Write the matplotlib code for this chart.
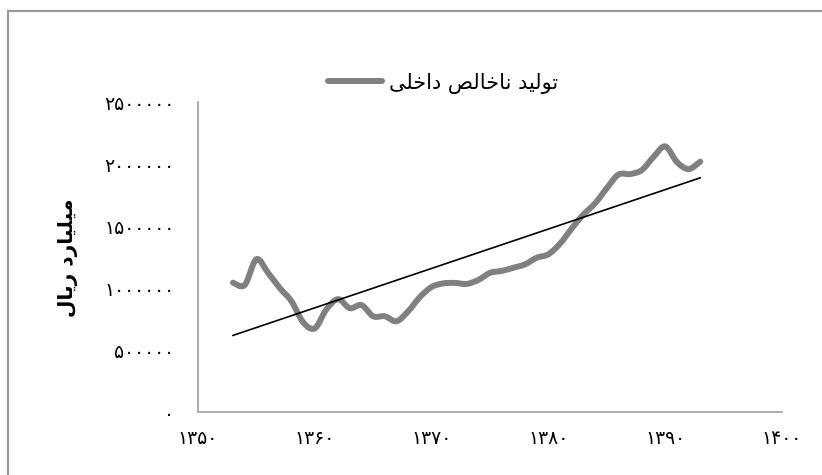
import numpy as np
import matplotlib
matplotlib.use("Agg")
import matplotlib.pyplot as plt
from matplotlib.path import Path
from matplotlib.patches import PathPatch, Rectangle
from matplotlib.lines import Line2D
from matplotlib.ticker import FixedLocator, FuncFormatter

plt.rcParams["font.family"] = ["DejaVu Sans"]

# داده ها (میلیارد ریال)
years = list(range(1353, 1394))
gdp = [1043000, 1024000, 1232000, 1122000, 1000000, 894000, 724000, 675000,
       829000, 910000, 837000, 862000, 772000, 772000, 732000, 813000,
       927000, 1008000, 1037000, 1041000, 1033000, 1065000, 1122000, 1138000,
       1163000, 1191000, 1244000, 1272000, 1358000, 1480000, 1593000, 1683000,
       1805000, 1915000, 1919000, 1951000, 2057000, 2142000, 2016000, 1959000,
       2019000]
x_ticks = [1350, 1360, 1370, 1380, 1390, 1400]
y_ticks = [0, 500000, 1000000, 1500000, 2000000, 2500000]
series_name = "تولید ناخالص داخلی"
y_title = "میلیارد ریال"

# شکل حروف فارسی (matplotlib خودش حروف را نمی چسباند)
FORMS = {
    "\u0627": ("\uFE8D", "\uFE8E", None, None),
    "\u062A": ("\uFE95", "\uFE96", "\uFE97", "\uFE98"),
    "\u062E": ("\uFEA5", "\uFEA6", "\uFEA7", "\uFEA8"),
    "\u062F": ("\uFEA9", "\uFEAA", None, None),
    "\u0631": ("\uFEAD", "\uFEAE", None, None),
    "\u0635": ("\uFEB9", "\uFEBA", "\uFEBB", "\uFEBC"),
    "\u0644": ("\uFEDD", "\uFEDE", "\uFEDF", "\uFEE0"),
    "\u0645": ("\uFEE1", "\uFEE2", "\uFEE3", "\uFEE4"),
    "\u0646": ("\uFEE5", "\uFEE6", "\uFEE7", "\uFEE8"),
    "\u0648": ("\uFEED", "\uFEEE", None, None),
    "\u06CC": ("\uFBFC", "\uFBFD", "\uFBFE", "\uFBFF"),
}


def fa_shape(text):
    words = []
    for word in text.split(" "):
        res = []
        for i, c in enumerate(word):
            f = FORMS.get(c)
            if f is None:
                res.append(c)
                continue
            prev = word[i - 1] if i > 0 else None
            nxt = word[i + 1] if i + 1 < len(word) else None
            jp = prev in FORMS and FORMS[prev][2] is not None
            jn = f[2] is not None and nxt in FORMS
            if jp and jn:
                res.append(f[3])
            elif jp:
                res.append(f[1])
            elif jn:
                res.append(f[2])
            else:
                res.append(f[0])
        words.append("".join(res))
    return " ".join(words)[::-1]


fa_digits = str.maketrans("0123456789", "۰۱۲۳۴۵۶۷۸۹")


def smooth_path(xs, ys):
    # منحنی هموار شبیه اکسل (بزیه)
    pts = list(zip(xs, ys))
    verts = [pts[0]]
    codes = [Path.MOVETO]
    n = len(pts)
    for i in range(n - 1):
        p0 = pts[i - 1] if i > 0 else pts[i]
        p1 = pts[i]
        p2 = pts[i + 1]
        p3 = pts[i + 2] if i + 2 < n else pts[i + 1]
        c1 = (p1[0] + (p2[0] - p0[0]) / 6, p1[1] + (p2[1] - p0[1]) / 6)
        c2 = (p2[0] - (p3[0] - p1[0]) / 6, p2[1] - (p3[1] - p1[1]) / 6)
        verts += [c1, c2, p2]
        codes += [Path.CURVE4] * 3
    return Path(verts, codes)


fig = plt.figure(figsize=(8.22, 4.75), dpi=100)
fig.patches.append(Rectangle((8 / 822, -0.1), 1.2, 1 - 11 / 475 + 0.1,
                             transform=fig.transFigure, fill=False,
                             edgecolor="#9a9a9a", linewidth=1.6))
ax = fig.add_axes([198 / 822, 63 / 475, 584 / 822, 310 / 475])

line_color = "#808080"
ax.add_patch(PathPatch(smooth_path(years, gdp), fill=False,
                       edgecolor=line_color, linewidth=4.3,
                       capstyle="round", joinstyle="round", zorder=3))

coef = np.polyfit(years, gdp, 1)
ax.plot([years[0], years[-1]], np.polyval(coef, [years[0], years[-1]]),
        color="black", linewidth=1.2, zorder=4)

ax.set_xlim(1350, 1400)
ax.set_ylim(0, 2500000)
ax.xaxis.set_major_locator(FixedLocator(x_ticks))
ax.yaxis.set_major_locator(FixedLocator(y_ticks))
ax.xaxis.set_major_formatter(FuncFormatter(lambda v, p: str(int(v)).translate(fa_digits)))
ax.yaxis.set_major_formatter(FuncFormatter(lambda v, p: str(int(v)).translate(fa_digits)))
ax.tick_params(length=0, labelsize=13.5, colors="black")
ax.tick_params(axis="x", pad=12)
ax.tick_params(axis="y", pad=17)

for s in ["top", "right"]:
    ax.spines[s].set_visible(False)
for s in ["left", "bottom"]:
    ax.spines[s].set_color("#a6a6a6")
    ax.spines[s].set_linewidth(1.3)

fig.text(68 / 822, 1 - 258 / 475, fa_shape(y_title), rotation=90,
         ha="center", va="center", fontsize=14.5, fontweight="bold")

handle = Line2D([], [], color=line_color, linewidth=4.3, solid_capstyle="round")
fig.legend([handle], [fa_shape(series_name)], loc="center",
           bbox_to_anchor=(443 / 822, 1 - 83 / 475), frameon=False,
           fontsize=15, handlelength=2.6, handletextpad=0.3)

fig.savefig("out.png", dpi=100)
